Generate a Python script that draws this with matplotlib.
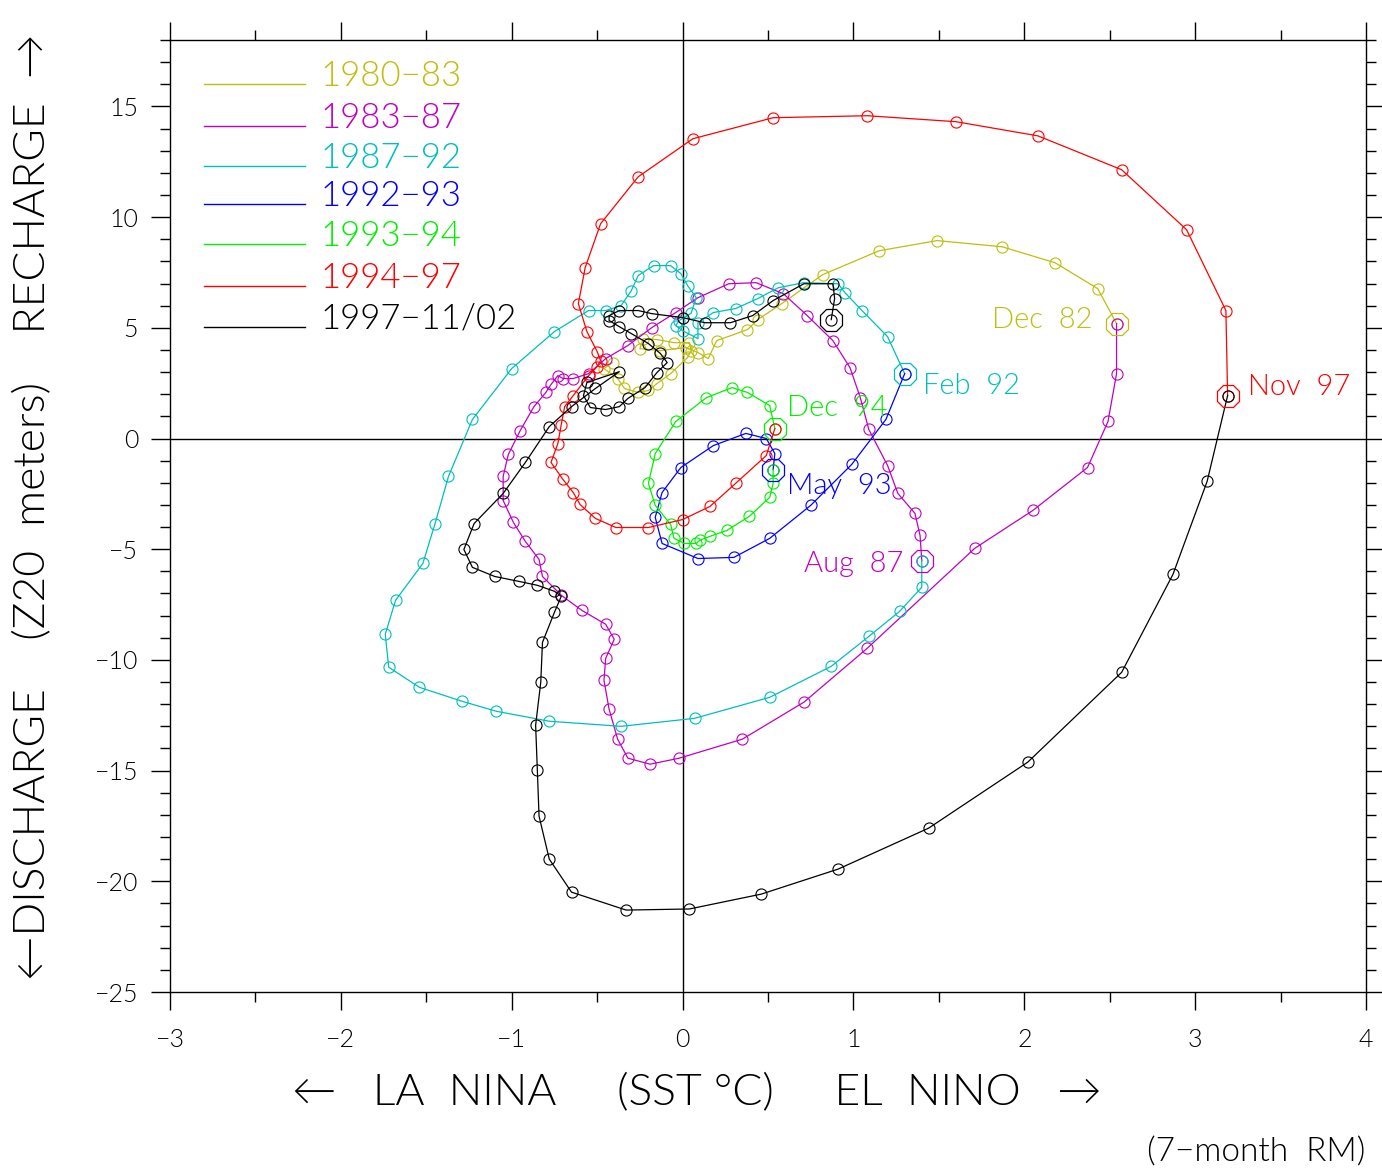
import matplotlib
matplotlib.use("Agg")
import matplotlib.pyplot as plt
from matplotlib.lines import Line2D


# Warm water volume (Z20) vs Nino3 SST, 7-month running means, by episode
X_8083 = [-0.41, -0.46, -0.38, -0.34, -0.26, -0.20, -0.15, -0.07, 0.03, 0.05,
          0.04, -0.05, -0.15, -0.23, -0.25, -0.13, 0.02, 0.09, 0.15, 0.20,
          0.38, 0.44, 0.58, 0.82, 1.15, 1.49, 1.87, 2.18, 2.43, 2.54]
Y_8083 = [3.43, 3.16, 2.71, 2.26, 2.08, 2.17, 2.48, 2.93, 3.66, 3.97,
          4.33, 4.33, 4.47, 4.51, 4.06, 3.97, 4.11, 3.88, 3.61, 4.42,
          4.92, 5.37, 6.09, 7.40, 8.48, 8.94, 8.66, 7.94, 6.77, 5.19]

X_8387 = [2.54, 2.54, 2.49, 2.37, 2.05, 1.71, 1.08, 0.71, 0.35, -0.02,
          -0.19, -0.32, -0.38, -0.43, -0.46, -0.45, -0.40, -0.45, -0.59, -0.71,
          -0.82, -0.84, -0.92, -0.99, -1.05, -1.05, -1.02, -0.95, -0.87, -0.80,
          -0.77, -0.73, -0.70, -0.64, -0.55, -0.45, -0.32, -0.18, -0.04, 0.09,
          0.27, 0.43, 0.59, 0.73, 0.88, 0.98, 1.04, 1.09, 1.20, 1.26,
          1.36, 1.39, 1.40]
Y_8387 = [5.19, 2.93, 0.77, -1.31, -3.25, -4.96, -9.48, -11.91, -13.58, -14.44,
          -14.71, -14.44, -13.58, -12.23, -10.92, -9.93, -9.07, -8.39, -7.76, -7.08,
          -6.23, -5.46, -4.65, -3.79, -2.80, -1.71, -0.72, 0.36, 1.44, 2.08,
          2.44, 2.84, 2.71, 2.71, 2.93, 3.61, 4.20, 5.01, 5.69, 6.36,
          6.99, 7.04, 6.54, 5.55, 4.42, 3.20, 1.85, 0.41, -1.22, -2.48,
          -3.38, -4.38, -5.51]

X_8792 = [1.40, 1.40, 1.27, 1.09, 0.87, 0.51, 0.07, -0.36, -0.78, -1.09,
          -1.29, -1.54, -1.72, -1.74, -1.68, -1.52, -1.45, -1.37, -1.23, -1.00,
          -0.75, -0.55, -0.45, -0.36, -0.30, -0.26, -0.17, -0.07, -0.01, 0.03,
          0.08, 0.05, -0.02, -0.04, 0.00, 0.09, 0.09, 0.18, 0.31, 0.44,
          0.56, 0.71, 0.91, 0.95, 1.05, 1.20, 1.30]
Y_8792 = [-5.51, -6.72, -7.81, -8.94, -10.29, -11.69, -12.64, -13.00, -12.77, -12.32,
          -11.87, -11.24, -10.33, -8.84, -7.31, -5.64, -3.88, -1.71, 0.86, 3.16,
          4.83, 5.78, 5.78, 6.00, 6.68, 7.36, 7.81, 7.81, 7.45, 6.90,
          6.36, 5.66, 5.33, 5.10, 4.87, 4.51, 5.23, 5.69, 5.87, 6.32,
          6.81, 7.04, 6.99, 6.59, 5.78, 4.60, 2.93]

X_9293 = [1.30, 1.19, 0.99, 0.75, 0.51, 0.30, 0.09, -0.12, -0.16, -0.12,
          -0.01, 0.18, 0.37, 0.49, 0.54, 0.53]
Y_9293 = [2.93, 0.86, -1.17, -3.02, -4.51, -5.37, -5.42, -4.74, -3.56, -2.44,
          -1.31, -0.32, 0.23, 0.00, -0.68, -1.40]

X_9394 = [0.53, 0.53, 0.51, 0.39, 0.26, 0.16, 0.10, 0.08, 0.01, -0.05,
          -0.07, -0.16, -0.20, -0.16, -0.04, 0.14, 0.29, 0.38, 0.51, 0.54]
Y_9394 = [-1.40, -2.03, -2.66, -3.52, -4.15, -4.42, -4.60, -4.74, -4.74, -4.51,
          -3.88, -3.02, -2.03, -0.68, 0.77, 1.85, 2.30, 2.08, 1.49, 0.45]

X_9497 = [0.54, 0.49, 0.31, 0.16, 0.00, -0.20, -0.39, -0.51, -0.60, -0.64,
          -0.70, -0.77, -0.73, -0.71, -0.69, -0.64, -0.55, -0.50, -0.48, -0.50,
          -0.56, -0.61, -0.57, -0.48, -0.26, 0.06, 0.53, 1.08, 1.60, 2.08,
          2.57, 2.95, 3.18, 3.19]
Y_9497 = [0.45, -0.77, -2.03, -3.07, -3.66, -4.02, -4.02, -3.61, -2.98, -2.44,
          -1.85, -1.08, -0.23, 0.63, 1.44, 1.94, 2.84, 3.25, 3.52, 3.93,
          4.83, 6.09, 7.72, 9.70, 11.82, 13.54, 14.49, 14.58, 14.31, 13.67,
          12.14, 9.43, 5.78, 1.94]

X_9702 = [3.19, 3.07, 2.87, 2.57, 2.02, 1.44, 0.91, 0.46, 0.04, -0.33,
          -0.65, -0.78, -0.84, -0.85, -0.86, -0.83, -0.82, -0.75, -0.71, -0.75,
          -0.85, -0.96, -1.10, -1.23, -1.28, -1.22, -1.05, -0.92, -0.78, -0.65,
          -0.51, -0.37, -0.56, -0.58, -0.54, -0.45, -0.37, -0.32, -0.22, -0.15,
          -0.09, -0.13, -0.20, -0.30, -0.37, -0.43, -0.43, -0.37, -0.26, -0.18,
          0.00, 0.13, 0.28, 0.41, 0.53, 0.71, 0.88, 0.89, 0.87]
Y_9702 = [1.94, -1.94, -6.14, -10.56, -14.62, -17.60, -19.45, -20.58, -21.25, -21.30,
          -20.49, -19.00, -17.06, -14.98, -12.95, -11.01, -9.21, -7.85, -7.13, -6.90,
          -6.63, -6.45, -6.23, -5.82, -5.01, -3.84, -2.48, -1.08, 0.54, 1.44,
          2.26, 3.02, 2.53, 1.94, 1.40, 1.31, 1.44, 1.81, 2.30, 2.98,
          3.43, 3.84, 4.29, 4.74, 5.05, 5.33, 5.55, 5.78, 5.78, 5.64,
          5.46, 5.23, 5.23, 5.55, 6.23, 6.99, 6.99, 6.32, 5.37]

SERIES = [
    ("1980\u221283", X_8083, Y_8083, "#BEBE10"),
    ("1983\u221287", X_8387, Y_8387, "#C000C0"),
    ("1987\u221292", X_8792, Y_8792, "#00BEBE"),
    ("1992\u221293", X_9293, Y_9293, "#0000FF"),
    ("1993\u221294", X_9394, Y_9394, "#00F000"),
    ("1994\u221297", X_9497, Y_9497, "#FF0000"),
    ("1997\u221211/02", X_9702, Y_9702, "#000000"),
]

# month labels at the end of each episode (series index, text, offset px, ha)
END_LABELS = [
    (0, "Dec  82", (-24, 4), "right"),
    (1, "Aug  87", (-18, -3), "right"),
    (2, "Feb  92", (18, -12), "left"),
    (3, "May  93", (14, -16), "left"),
    (4, "Dec  94", (12, 21), "left"),
    (5, "Nov  97", (20, 9), "left"),
]

# thin lettering (Lato Light), arrows come from DejaVu
plt.rcParams["font.family"] = ["Lato", "DejaVu Sans"]
plt.rcParams["font.weight"] = 300

fig = plt.figure(figsize=(13.82, 11.69), dpi=100)
ax = fig.add_axes([170 / 1382, 1 - 992 / 1169, 1196 / 1382, 952 / 1169])

ax.axhline(0, color="black", lw=1.0, zorder=1)
ax.axvline(0, color="black", lw=1.0, zorder=1)

for name, xs, ys, color in SERIES:
    ax.plot(xs, ys, color=color, lw=0.9, marker="o", ms=8, mfc="none",
            mec=color, mew=0.8, zorder=3)
    ax.plot(xs[-1], ys[-1], marker="8", ms=17, mfc="none", mec=color,
            mew=0.9, zorder=4)

for idx, text, off, ha in END_LABELS:
    _, xs, ys, color = SERIES[idx]
    ax.annotate(text, (xs[-1], ys[-1]), xytext=off, textcoords="offset pixels",
                ha=ha, va="center", color=color, fontsize=21)

# legend drawn by hand: short line segment plus coloured label
legend_rows = [84, 126, 166, 204, 244, 286, 327]
for (name, xs, ys, color), row in zip(SERIES, legend_rows):
    yl = 1 - (row - 40) / 952
    ax.add_line(Line2D([34 / 1196, 135 / 1196], [yl, yl], color=color, lw=1.0,
                       transform=ax.transAxes))
    ax.text(150 / 1196, yl - 2 / 952, name, color=color, fontsize=25,
            transform=ax.transAxes, ha="left", va="baseline")

ax.set_xlim(-3, 4)
ax.set_ylim(-25, 18)
ax.set_xticks(range(-3, 5))
ax.set_xticks([v + 0.5 for v in range(-3, 4)], minor=True)
ax.set_yticks(range(-25, 16, 5))
ax.set_yticks(range(-25, 19), minor=True)

ax.tick_params(which="both", direction="out", top=True, right=True,
               width=1.0, labelsize=18)
ax.tick_params(axis="x", which="major", length=13, pad=13)
ax.tick_params(axis="x", which="minor", length=7)
ax.tick_params(axis="y", which="major", length=14, pad=9)
ax.tick_params(axis="y", which="minor", length=7)
for sp in ax.spines.values():
    sp.set_linewidth(1.0)

fig.text(697 / 1382, 1 - 1093 / 1169,
         "\u2190   LA  NINA     (SST \u00b0C)     EL  NINO   \u2192",
         ha="center", va="center", fontsize=32)
fig.text(33 / 1382, 1 - 507 / 1169,
         "\u2190DISCHARGE    (Z20  meters)    RECHARGE  \u2192",
         ha="center", va="center", rotation=90, fontsize=32)
fig.text(1365 / 1382, 1 - 1152 / 1169, "(7\u2212month  RM)",
         ha="right", va="center", fontsize=24)

fig.savefig("out.png", dpi=100)
